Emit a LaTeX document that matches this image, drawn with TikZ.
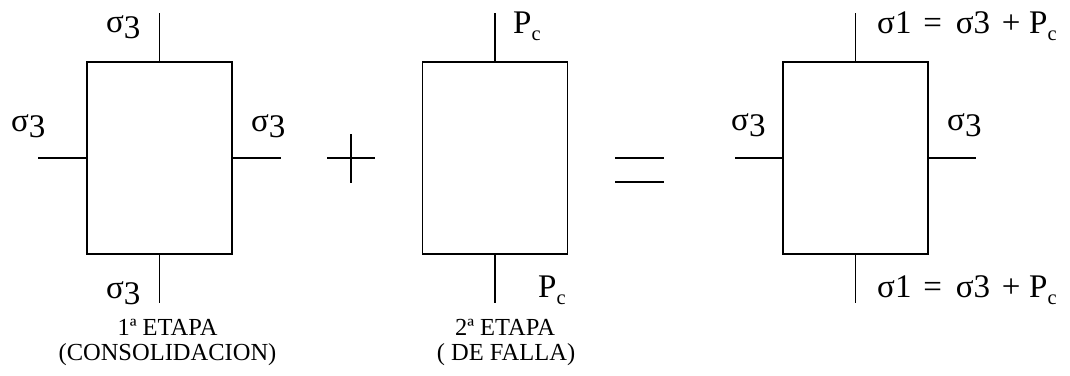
\documentclass[tikz,border=0pt]{standalone}
\usepackage{fontspec}
\usepackage{graphicx}
\setmainfont{Liberation Serif}
\newcommand\sthree{σ\raisebox{-0.2em}{3}}
\newcommand\pcc{P\raisebox{-0.22em}{\scalebox{0.62}{c}}}
\newcommand\eqlabel{σ1\hspace{0.36em}=\hspace{0.42em}σ3\hspace{0.36em}+\hspace{0.26em}\pcc}
\begin{document}
\begin{tikzpicture}[x=1pt,y=-1pt,
  box/.style={draw,line width=1.8pt,minimum width=145pt,minimum height=192pt,inner sep=0pt},
  ln/.style={line width=1.8pt},
  lab/.style={inner sep=0pt,anchor=base west,font=\fontsize{33}{35}\selectfont},
  captext/.style={inner sep=0pt,anchor=base,font=\fontsize{24.5}{26}\selectfont}]
\useasboundingbox (0,0) rectangle (1070,375);
% boxes
\node[box] (b1) at (159.5,158) {};
\node[box] (b2) at (495,158) {};
\node[box] (b3) at (855.5,158) {};
% free ends
\coordinate (b1t) at (159.5,13);
\coordinate (b1b) at (159.5,303);
\coordinate (b1l) at (38,158);
\coordinate (b1r) at (281,158);
\coordinate (b2t) at (495,13);
\coordinate (b2b) at (495,303);
\coordinate (b3t) at (855.5,13);
\coordinate (b3b) at (855.5,303);
\coordinate (b3l) at (735,158);
\coordinate (b3r) at (976,158);
\draw[ln] (b1.north) -- (b1t);
\draw[ln] (b1.south) -- (b1b);
\draw[ln] (b1.west) -- (b1l);
\draw[ln] (b1.east) -- (b1r);
\draw[ln] (b2.north) -- (b2t);
\draw[ln] (b2.south) -- (b2b);
\draw[ln] (b3.north) -- (b3t);
\draw[ln] (b3.south) -- (b3b);
\draw[ln] (b3.west) -- (b3l);
\draw[ln] (b3.east) -- (b3r);
% plus and equals
\draw[ln] (327,158) -- (375,158);
\draw[ln] (351,134) -- (351,183);
\draw[ln] (615,158) -- (664,158);
\draw[ln] (615,182) -- (664,182);
% labels box 1
\node[lab] (s1t) at (106,32) {\sthree};
\node[lab] (s1l) at (11,131) {\sthree};
\node[lab] (s1r) at (251,131) {\sthree};
\node[lab] (s1b) at (106,298) {\sthree};
\node[captext] (c1a) at (167.5,335) {1ª ETAPA};
\node[captext] (c1b) at (167.5,360) {(CONSOLIDACION)};
% labels box 2
\node[lab] (p2t) at (513,33) {\pcc};
\node[lab] (p2b) at (538,297) {\pcc};
\node[captext] (c2a) at (505,335) {2ª ETAPA};
\node[captext] (c2b) at (506,360) {( DE FALLA)};
% labels box 3
\node[lab] (e3t) at (877,33) {\eqlabel};
\node[lab] (e3b) at (877,297) {\eqlabel};
\node[lab] (s3l) at (731,130) {\sthree};
\node[lab] (s3r) at (947,130) {\sthree};
\end{tikzpicture}
\end{document}
